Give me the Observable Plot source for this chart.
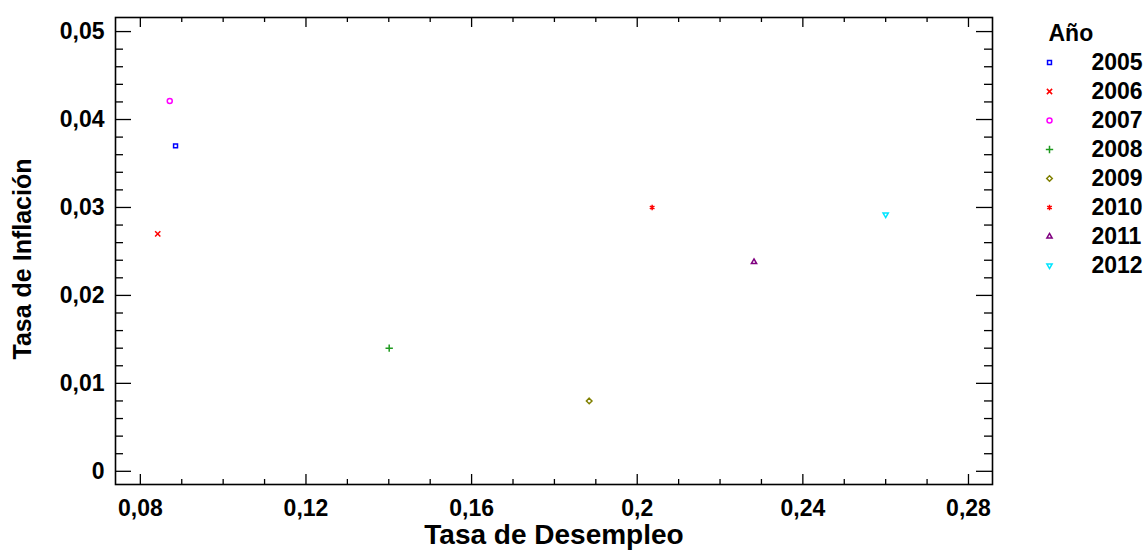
<!DOCTYPE html>
<html><head><meta charset="utf-8">
<script src="https://cdn.jsdelivr.net/npm/d3@7"></script>
<script src="https://cdn.jsdelivr.net/npm/@observablehq/plot@0.6"></script>
<style>
body{margin:0;background:#fff;}
#wrap{position:relative;width:1145px;height:554px;}
#main{position:absolute;left:0;top:0;}
#legend{position:absolute;left:1035px;top:0;}
</style></head><body><div id="wrap"><div id="main"></div><div id="legend"></div></div>
<script>
// ---- data ----
const years = ["2005", "2006", "2007", "2008", "2009", "2010", "2011", "2012"];
const unemployment = [0.0885, 0.0842, 0.0871, 0.1401, 0.1884, 0.2036, 0.2282, 0.2600];
const inflation = [0.0370, 0.0270, 0.0421, 0.0140, 0.0080, 0.0300, 0.0238, 0.0292];
const colors = ["#0000ff", "#ff0000", "#ff00ff", "#1f9a1f", "#808000", "#ff0000", "#800080", "#00e5ff"];
const xMajorTicks = [0.08, 0.12, 0.16, 0.20, 0.24, 0.28];
const yMajorTicks = [0, 0.01, 0.02, 0.03, 0.04, 0.05];
const xTitle = "Tasa de Desempleo";
const yTitle = "Tasa de Inflación";
const legendTitle = "Año";

// ---- derived ----
const rows = years.map((y, i) => ({year: y, x: unemployment[i], y: inflation[i]}));
const xMinorTicks = d3.range(0.09, 0.28, 0.01).map(v => +v.toFixed(3)).filter(v => !xMajorTicks.some(m => Math.abs(m - v) < 1e-9));
const yMinorTicks = d3.range(0.002, 0.05, 0.002).map(v => +v.toFixed(4)).filter(v => !yMajorTicks.some(m => Math.abs(m - v) < 1e-9));
const fmt = d => String(+(+d).toFixed(2)).replace(".", ",");

const triangleDown = {
  draw(context, size) {
    const s = Math.sqrt(size) * 0.6824, t = s / 2, u = s * Math.sqrt(3) / 2;
    context.moveTo(0, s); context.lineTo(u, -t); context.lineTo(-u, -t); context.closePath();
  }
};
const symbols = [d3.symbolSquare2, d3.symbolTimes, d3.symbolCircle, d3.symbolPlus, d3.symbolDiamond2, d3.symbolAsterisk, d3.symbolTriangle2, triangleDown];

const W = 1145, H = 554, mL = 115, mR = 153, mT = 17, mB = 70;
const iW = W - mL - mR, iH = H - mT - mB;
const font = "'Liberation Sans', Arial, sans-serif";

const chart = Plot.plot({
  width: W, height: H,
  marginLeft: mL, marginRight: mR, marginTop: mT, marginBottom: mB,
  style: {fontFamily: font, fontSize: "23px", fontWeight: "bold", color: "#000", background: "#fff"},
  x: {domain: [0.0740, 0.2858]},
  y: {domain: [-0.0015, 0.0516]},
  color: {domain: years, range: colors},
  symbol: {domain: years, range: symbols},
  marks: [
    // bottom ticks
    Plot.tickX(xMajorTicks, {x: d => d, insetTop: iH - 10, stroke: "#000", strokeWidth: 1.3}),
    Plot.tickX(xMinorTicks, {x: d => d, insetTop: iH - 5, stroke: "#000", strokeWidth: 1.3}),
    // top ticks
    Plot.tickX(xMajorTicks, {x: d => d, insetBottom: iH - 10, stroke: "#000", strokeWidth: 1.3}),
    Plot.tickX(xMinorTicks, {x: d => d, insetBottom: iH - 5, stroke: "#000", strokeWidth: 1.3}),
    // left ticks
    Plot.tickY(yMajorTicks, {y: d => d, insetRight: iW - 16, stroke: "#000", strokeWidth: 1.3}),
    Plot.tickY(yMinorTicks, {y: d => d, insetRight: iW - 8, stroke: "#000", strokeWidth: 1.3}),
    // right ticks
    Plot.tickY(yMajorTicks, {y: d => d, insetLeft: iW - 16, stroke: "#000", strokeWidth: 1.3}),
    Plot.tickY(yMinorTicks, {y: d => d, insetLeft: iW - 8, stroke: "#000", strokeWidth: 1.3}),
    Plot.axisX({ticks: xMajorTicks, tickSize: 0, tickPadding: 15, tickFormat: fmt, label: null, fontSize: 23, fontWeight: "bold"}),
    Plot.axisY({ticks: yMajorTicks, tickSize: 0, tickPadding: 11, tickFormat: fmt, label: null, fontSize: 23, fontWeight: "bold"}),
    Plot.frame({stroke: "#000", strokeWidth: 1.6}),
    Plot.text([xTitle], {text: d => d, frameAnchor: "bottom", dy: 59, fontSize: 28, fontWeight: "bold"}),
    Plot.text([yTitle], {text: d => d, frameAnchor: "left", textAnchor: "middle", dx: -93, dy: 8, rotate: -90, fontSize: 25, fontWeight: "bold"}),
    Plot.dot(rows, {x: "x", y: "y", symbol: "year", stroke: "year", fill: "none", r: 2.5, strokeWidth: 1.5})
  ]
});
document.getElementById("main").appendChild(chart);

const legend = Plot.plot({
  width: 110, height: 280,
  margin: 0,
  style: {fontFamily: font, fontSize: "23px", fontWeight: "bold", color: "#000", background: "transparent"},
  x: {domain: [0, 1], range: [14, 56], axis: null},
  y: {type: "point", domain: years, range: [61.7, 265], padding: 0, axis: null},
  color: {domain: years, range: colors},
  symbol: {domain: years, range: symbols},
  marks: [
    Plot.text([legendTitle], {text: d => d, frameAnchor: "top-left", dx: 13, dy: 33, textAnchor: "start", lineAnchor: "middle", fontSize: 23, fontWeight: "bold"}),
    Plot.dot(years, {x: () => 0, y: d => d, symbol: d => d, stroke: d => d, fill: "none", r: 2.5, strokeWidth: 1.5}),
    Plot.text(years, {x: () => 1, y: d => d, text: d => d, textAnchor: "start", fontSize: 23, fontWeight: "bold"})
  ]
});
document.getElementById("legend").appendChild(legend);
</script>
</body></html>
